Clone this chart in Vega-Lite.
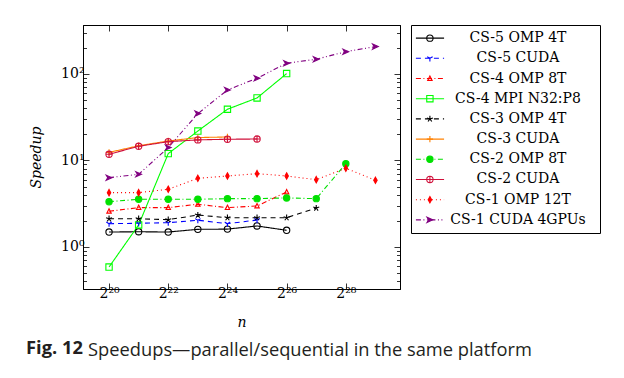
{
  "$schema": "https://vega.github.io/schema/vega-lite/v6.json",
  "padding": {"left": 26, "top": 24, "right": 5, "bottom": 5},
  "background": "white",
  "datasets": {
    "pts": [
      {"s": "CS-5 OMP 4T", "e": 20, "v": 1.49}, {"s": "CS-5 OMP 4T", "e": 21, "v": 1.50}, {"s": "CS-5 OMP 4T", "e": 22, "v": 1.49}, {"s": "CS-5 OMP 4T", "e": 23, "v": 1.60}, {"s": "CS-5 OMP 4T", "e": 24, "v": 1.61}, {"s": "CS-5 OMP 4T", "e": 25, "v": 1.75}, {"s": "CS-5 OMP 4T", "e": 26, "v": 1.56},
      {"s": "CS-5 CUDA", "e": 20, "v": 1.86}, {"s": "CS-5 CUDA", "e": 21, "v": 1.88}, {"s": "CS-5 CUDA", "e": 22, "v": 1.91}, {"s": "CS-5 CUDA", "e": 23, "v": 2.04}, {"s": "CS-5 CUDA", "e": 24, "v": 1.86}, {"s": "CS-5 CUDA", "e": 25, "v": 2.05},
      {"s": "CS-4 OMP 8T", "e": 20, "v": 2.59}, {"s": "CS-4 OMP 8T", "e": 21, "v": 2.85}, {"s": "CS-4 OMP 8T", "e": 22, "v": 2.85}, {"s": "CS-4 OMP 8T", "e": 23, "v": 3.12}, {"s": "CS-4 OMP 8T", "e": 24, "v": 2.85}, {"s": "CS-4 OMP 8T", "e": 25, "v": 2.98}, {"s": "CS-4 OMP 8T", "e": 26, "v": 4.32},
      {"s": "CS-4 MPI N32:P8", "e": 20, "v": 0.587}, {"s": "CS-4 MPI N32:P8", "e": 21, "v": 1.80}, {"s": "CS-4 MPI N32:P8", "e": 22, "v": 12.0}, {"s": "CS-4 MPI N32:P8", "e": 23, "v": 21.9}, {"s": "CS-4 MPI N32:P8", "e": 24, "v": 39.1}, {"s": "CS-4 MPI N32:P8", "e": 25, "v": 52.8}, {"s": "CS-4 MPI N32:P8", "e": 26, "v": 101},
      {"s": "CS-3 OMP 4T", "e": 20, "v": 2.12}, {"s": "CS-3 OMP 4T", "e": 21, "v": 2.12}, {"s": "CS-3 OMP 4T", "e": 22, "v": 2.07}, {"s": "CS-3 OMP 4T", "e": 23, "v": 2.34}, {"s": "CS-3 OMP 4T", "e": 24, "v": 2.18}, {"s": "CS-3 OMP 4T", "e": 25, "v": 2.18}, {"s": "CS-3 OMP 4T", "e": 26, "v": 2.18}, {"s": "CS-3 OMP 4T", "e": 27, "v": 2.82},
      {"s": "CS-3 CUDA", "e": 20, "v": 12.4}, {"s": "CS-3 CUDA", "e": 21, "v": 14.8}, {"s": "CS-3 CUDA", "e": 22, "v": 16.8}, {"s": "CS-3 CUDA", "e": 23, "v": 18.4}, {"s": "CS-3 CUDA", "e": 24, "v": 18.7},
      {"s": "CS-2 OMP 8T", "e": 20, "v": 3.34}, {"s": "CS-2 OMP 8T", "e": 21, "v": 3.56}, {"s": "CS-2 OMP 8T", "e": 22, "v": 3.56}, {"s": "CS-2 OMP 8T", "e": 23, "v": 3.56}, {"s": "CS-2 OMP 8T", "e": 24, "v": 3.62}, {"s": "CS-2 OMP 8T", "e": 25, "v": 3.62}, {"s": "CS-2 OMP 8T", "e": 26, "v": 3.69}, {"s": "CS-2 OMP 8T", "e": 27, "v": 3.62}, {"s": "CS-2 OMP 8T", "e": 28, "v": 9.18},
      {"s": "CS-2 CUDA", "e": 20, "v": 11.8}, {"s": "CS-2 CUDA", "e": 21, "v": 14.6}, {"s": "CS-2 CUDA", "e": 22, "v": 16.5}, {"s": "CS-2 CUDA", "e": 23, "v": 17.3}, {"s": "CS-2 CUDA", "e": 24, "v": 17.6}, {"s": "CS-2 CUDA", "e": 25, "v": 17.7},
      {"s": "CS-1 OMP 12T", "e": 20, "v": 4.25}, {"s": "CS-1 OMP 12T", "e": 21, "v": 4.25}, {"s": "CS-1 OMP 12T", "e": 22, "v": 4.65}, {"s": "CS-1 OMP 12T", "e": 23, "v": 6.22}, {"s": "CS-1 OMP 12T", "e": 24, "v": 6.62}, {"s": "CS-1 OMP 12T", "e": 25, "v": 7.04}, {"s": "CS-1 OMP 12T", "e": 26, "v": 6.62}, {"s": "CS-1 OMP 12T", "e": 27, "v": 6.00}, {"s": "CS-1 OMP 12T", "e": 28, "v": 8.13}, {"s": "CS-1 OMP 12T", "e": 29, "v": 5.90},
      {"s": "CS-1 CUDA 4GPUs", "e": 20, "v": 6.33}, {"s": "CS-1 CUDA 4GPUs", "e": 21, "v": 6.92}, {"s": "CS-1 CUDA 4GPUs", "e": 22, "v": 14.1}, {"s": "CS-1 CUDA 4GPUs", "e": 23, "v": 34.8}, {"s": "CS-1 CUDA 4GPUs", "e": 24, "v": 65.3}, {"s": "CS-1 CUDA 4GPUs", "e": 25, "v": 89.2}, {"s": "CS-1 CUDA 4GPUs", "e": 26, "v": 133}, {"s": "CS-1 CUDA 4GPUs", "e": 27, "v": 148}, {"s": "CS-1 CUDA 4GPUs", "e": 28, "v": 181}, {"s": "CS-1 CUDA 4GPUs", "e": 29, "v": 207}
    ],
    "leg": [
      {"s": "CS-5 OMP 4T"}, {"s": "CS-5 CUDA"}, {"s": "CS-4 OMP 8T"}, {"s": "CS-4 MPI N32:P8"}, {"s": "CS-3 OMP 4T"},
      {"s": "CS-3 CUDA"}, {"s": "CS-2 OMP 8T"}, {"s": "CS-2 CUDA"}, {"s": "CS-1 OMP 12T"}, {"s": "CS-1 CUDA 4GPUs"}
    ]
  },
  "title": {
    "text": "Fig. 12",
    "orient": "bottom",
    "anchor": "start",
    "frame": "bounds",
    "offset": -19,
    "dx": -3,
    "font": "Open Sans",
    "fontSize": 18.3,
    "fontWeight": "bold",
    "color": "#231f20"
  },
  "vconcat": [
    {
      "title": {
        "text": "Speedups—parallel/sequential in the same platform",
        "orient": "bottom",
        "anchor": "start",
        "frame": "bounds",
        "offset": 12,
        "dx": 59,
        "font": "Open Sans",
        "fontSize": 18.3,
        "fontWeight": "normal",
        "color": "#231f20"
      },
      "spacing": 9,
      "hconcat": [
        {
          "width": 317,
          "height": 264,
          "data": {"name": "pts"},
          "resolve": {"axis": {"x": "independent", "y": "independent"}},
          "layer": [
            {
              "mark": {"type": "line", "strokeWidth": 1.1, "clip": true},
              "encoding": {
                "x": {"field": "e", "type": "quantitative",
                  "scale": {"domain": [19.12, 29.83], "nice": false, "zero": false},
                  "axis": {"orient": "bottom", "values": [20, 22, 24, 26, 28],
                    "labelExpr": "datum.value==20?'2²⁰':datum.value==22?'2²²':datum.value==24?'2²⁴':datum.value==26?'2²⁶':'2²⁸'",
                    "tickSize": -6, "labelPadding": 3, "title": "n", "titlePadding": 15}},
                "y": {"field": "v", "type": "quantitative",
                  "scale": {"type": "log", "domain": [0.327, 368], "nice": false},
                  "axis": {"orient": "left",
                    "values": [0.4, 0.5, 0.6, 0.7, 0.8, 0.9, 1, 2, 3, 4, 5, 6, 7, 8, 9, 10, 20, 30, 40, 50, 60, 70, 80, 90, 100, 200, 300],
                    "labelExpr": "datum.value==1?'10⁰':datum.value==10?'10¹':datum.value==100?'10²':''",
                    "labelOverlap": false,
                    "tickSize": {"condition": {"test": "datum.value==1||datum.value==10||datum.value==100", "value": -6}, "value": -3.5},
                    "labelPadding": 5, "title": "Speedup", "titlePadding": 17}},
                "color": {"field": "s", "type": "nominal", "legend": null,
                  "scale": {"domain": ["CS-5 OMP 4T", "CS-5 CUDA", "CS-4 OMP 8T", "CS-4 MPI N32:P8", "CS-3 OMP 4T", "CS-3 CUDA", "CS-2 OMP 8T", "CS-2 CUDA", "CS-1 OMP 12T", "CS-1 CUDA 4GPUs"],
                    "range": ["#000000", "#0000ff", "#ff0000", "#00ff00", "#000000", "#ff8000", "#00e000", "#d0103a", "#ff0000", "#800080"]}},
                "strokeDash": {"field": "s", "type": "nominal", "legend": null,
                  "scale": {"domain": ["CS-5 OMP 4T", "CS-5 CUDA", "CS-4 OMP 8T", "CS-4 MPI N32:P8", "CS-3 OMP 4T", "CS-3 CUDA", "CS-2 OMP 8T", "CS-2 CUDA", "CS-1 OMP 12T", "CS-1 CUDA 4GPUs"],
                    "range": [[1, 0], [5, 4], [5, 2.5, 1, 2.5], [1, 0], [5, 4], [1, 0], [5, 2.5, 1, 2.5], [1, 0], [1, 3], [5, 2.5, 1, 2.5, 1, 2.5]]}}
              }
            },
            {
              "mark": {"type": "point", "size": 40, "strokeWidth": 1.1, "opacity": 1, "clip": true},
              "encoding": {
                "x": {"field": "e", "type": "quantitative",
                  "axis": {"orient": "top", "values": [20, 22, 24, 26, 28], "labels": false, "tickSize": -6, "title": null}},
                "y": {"field": "v", "type": "quantitative",
                  "axis": {"orient": "right",
                    "values": [0.4, 0.5, 0.6, 0.7, 0.8, 0.9, 1, 2, 3, 4, 5, 6, 7, 8, 9, 10, 20, 30, 40, 50, 60, 70, 80, 90, 100, 200, 300],
                    "labels": false, "title": null,
                    "tickSize": {"condition": {"test": "datum.value==1||datum.value==10||datum.value==100", "value": -6}, "value": -3.5}}},
                "stroke": {"field": "s", "type": "nominal", "legend": null,
                  "scale": {"domain": ["CS-5 OMP 4T", "CS-5 CUDA", "CS-4 OMP 8T", "CS-4 MPI N32:P8", "CS-3 OMP 4T", "CS-3 CUDA", "CS-2 OMP 8T", "CS-2 CUDA", "CS-1 OMP 12T", "CS-1 CUDA 4GPUs"],
                    "range": ["#000000", "#0000ff", "#ff0000", "#00ff00", "#000000", "#ff8000", "#00e000", "#d0103a", "#ff0000", "#800080"]}},
                "fill": {"field": "s", "type": "nominal", "legend": null,
                  "scale": {"domain": ["CS-5 OMP 4T", "CS-5 CUDA", "CS-4 OMP 8T", "CS-4 MPI N32:P8", "CS-3 OMP 4T", "CS-3 CUDA", "CS-2 OMP 8T", "CS-2 CUDA", "CS-1 OMP 12T", "CS-1 CUDA 4GPUs"],
                    "range": ["transparent", "transparent", "transparent", "transparent", "transparent", "transparent", "#00e000", "transparent", "#ff0000", "#800080"]}},
                "shape": {"field": "s", "type": "nominal", "legend": null,
                  "scale": {"domain": ["CS-5 OMP 4T", "CS-5 CUDA", "CS-4 OMP 8T", "CS-4 MPI N32:P8", "CS-3 OMP 4T", "CS-3 CUDA", "CS-2 OMP 8T", "CS-2 CUDA", "CS-1 OMP 12T", "CS-1 CUDA 4GPUs"],
                    "range": ["circle", "M0,0L0,1M0,0L-0.87,-0.5M0,0L0.87,-0.5", "M0,-0.8L0.7,0.6L-0.7,0.6Z", "square", "M0,0L0,-1M0,0L-0.95,-0.31M0,0L-0.59,0.81M0,0L0.59,0.81M0,0L0.95,-0.31", "M-1,0H1M0,-1V1", "circle", "M-1,0A1,1,0,1,1,1,0A1,1,0,1,1,-1,0ZM-1,0H1M0,-1V1", "M0,-1L0.55,0L0,1L-0.55,0Z", "M-0.9,-0.8L0.9,0L-0.9,0.8L-0.4,0Z"]}}
              }
            }
          ]
        },
        {
          "width": 189,
          "height": 208,
          "data": {"name": "leg"},
          "encoding": {
            "y": {"field": "s", "type": "nominal", "axis": null,
              "scale": {"type": "point", "padding": 0.65, "domain": ["CS-5 OMP 4T", "CS-5 CUDA", "CS-4 OMP 8T", "CS-4 MPI N32:P8", "CS-3 OMP 4T", "CS-3 CUDA", "CS-2 OMP 8T", "CS-2 CUDA", "CS-1 OMP 12T", "CS-1 CUDA 4GPUs"]}}
          },
          "layer": [
            {
              "mark": {"type": "rule", "strokeWidth": 1.1},
              "encoding": {
                "x": {"datum": 0.026, "type": "quantitative", "scale": {"domain": [0, 1], "nice": false}, "axis": null},
                "x2": {"datum": 0.175},
                "color": {"field": "s", "type": "nominal", "legend": null,
                  "scale": {"domain": ["CS-5 OMP 4T", "CS-5 CUDA", "CS-4 OMP 8T", "CS-4 MPI N32:P8", "CS-3 OMP 4T", "CS-3 CUDA", "CS-2 OMP 8T", "CS-2 CUDA", "CS-1 OMP 12T", "CS-1 CUDA 4GPUs"],
                    "range": ["#000000", "#0000ff", "#ff0000", "#00ff00", "#000000", "#ff8000", "#00e000", "#d0103a", "#ff0000", "#800080"]}},
                "strokeDash": {"field": "s", "type": "nominal", "legend": null,
                  "scale": {"domain": ["CS-5 OMP 4T", "CS-5 CUDA", "CS-4 OMP 8T", "CS-4 MPI N32:P8", "CS-3 OMP 4T", "CS-3 CUDA", "CS-2 OMP 8T", "CS-2 CUDA", "CS-1 OMP 12T", "CS-1 CUDA 4GPUs"],
                    "range": [[1, 0], [5, 4], [5, 2.5, 1, 2.5], [1, 0], [5, 4], [1, 0], [5, 2.5, 1, 2.5], [1, 0], [1, 3], [5, 2.5, 1, 2.5, 1, 2.5]]}}
              }
            },
            {
              "mark": {"type": "point", "size": 40, "strokeWidth": 1.1, "opacity": 1},
              "encoding": {
                "x": {"datum": 0.1, "type": "quantitative"},
                "stroke": {"field": "s", "type": "nominal", "legend": null,
                  "scale": {"domain": ["CS-5 OMP 4T", "CS-5 CUDA", "CS-4 OMP 8T", "CS-4 MPI N32:P8", "CS-3 OMP 4T", "CS-3 CUDA", "CS-2 OMP 8T", "CS-2 CUDA", "CS-1 OMP 12T", "CS-1 CUDA 4GPUs"],
                    "range": ["#000000", "#0000ff", "#ff0000", "#00ff00", "#000000", "#ff8000", "#00e000", "#d0103a", "#ff0000", "#800080"]}},
                "fill": {"field": "s", "type": "nominal", "legend": null,
                  "scale": {"domain": ["CS-5 OMP 4T", "CS-5 CUDA", "CS-4 OMP 8T", "CS-4 MPI N32:P8", "CS-3 OMP 4T", "CS-3 CUDA", "CS-2 OMP 8T", "CS-2 CUDA", "CS-1 OMP 12T", "CS-1 CUDA 4GPUs"],
                    "range": ["white", "white", "white", "white", "transparent", "transparent", "#00e000", "white", "#ff0000", "#800080"]}},
                "shape": {"field": "s", "type": "nominal", "legend": null,
                  "scale": {"domain": ["CS-5 OMP 4T", "CS-5 CUDA", "CS-4 OMP 8T", "CS-4 MPI N32:P8", "CS-3 OMP 4T", "CS-3 CUDA", "CS-2 OMP 8T", "CS-2 CUDA", "CS-1 OMP 12T", "CS-1 CUDA 4GPUs"],
                    "range": ["circle", "M0,0L0,1M0,0L-0.87,-0.5M0,0L0.87,-0.5", "M0,-0.8L0.7,0.6L-0.7,0.6Z", "square", "M0,0L0,-1M0,0L-0.95,-0.31M0,0L-0.59,0.81M0,0L0.59,0.81M0,0L0.95,-0.31", "M-1,0H1M0,-1V1", "circle", "M-1,0A1,1,0,1,1,1,0A1,1,0,1,1,-1,0ZM-1,0H1M0,-1V1", "M0,-1L0.55,0L0,1L-0.55,0Z", "M-0.9,-0.8L0.9,0L-0.9,0.8L-0.4,0Z"]}}
              }
            },
            {
              "mark": {"type": "text", "align": "center", "baseline": "middle", "font": "DejaVu Serif", "fontSize": 14, "color": "#000000"},
              "encoding": {
                "x": {"datum": 0.566, "type": "quantitative"},
                "text": {"field": "s", "type": "nominal"}
              }
            }
          ]
        }
      ]
    }
  ],
  "config": {
    "view": {"stroke": "#000000", "strokeWidth": 1},
    "axis": {
      "grid": false,
      "domainColor": "#000000",
      "domainWidth": 1,
      "tickColor": "#000000",
      "tickWidth": 0.8,
      "labelFont": "DejaVu Serif",
      "labelFontSize": 14,
      "labelColor": "#000000",
      "titleFont": "DejaVu Serif",
      "titleFontSize": 14,
      "titleFontStyle": "italic",
      "titleFontWeight": "normal",
      "titleColor": "#000000"
    }
  }
}
